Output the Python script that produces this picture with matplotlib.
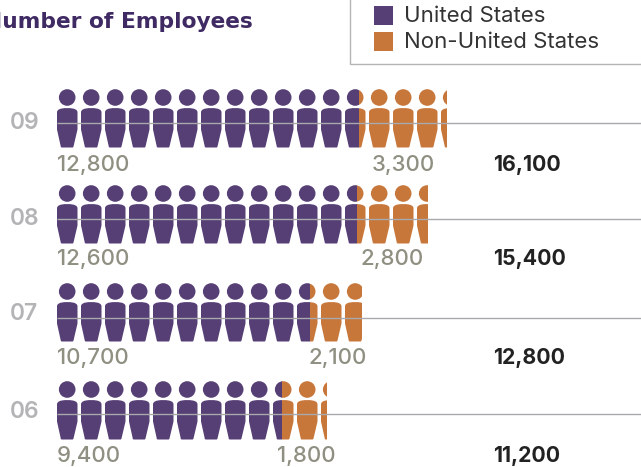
import math

import matplotlib

matplotlib.use("Agg")
import matplotlib.pyplot as plt
from matplotlib.patches import PathPatch, Rectangle
from matplotlib.path import Path
from matplotlib.transforms import Affine2D

plt.rcParams["font.family"] = ["Inter", "DejaVu Sans"]

years = ["09", "08", "07", "06"]
us_employees = [12800, 12600, 10700, 9400]
non_us_employees = [3300, 2800, 2100, 1800]
total_employees = [16100, 15400, 12800, 11200]

# how many icons are filled in the picture (not quite the same as the labels)
icons_us = [12.58, 12.5, 10.54, 9.38]
icons_total = [16.25, 15.46, 12.71, 11.25]

PURPLE = "#553f75"
ORANGE = "#c8773a"
LINE = "#a9a9ad"
VALUE_GREY = "#8f8f82"
YEAR_GREY = "#b4b4b6"

W, H = 641, 467
PITCH = 24.0  # px per icon
X0 = 57.0

head_y = [97.5, 193.5, 291.5, 389.5]
line_y = [123, 219, 318, 414]
year_y = [123, 219, 314, 412]
label_y = [165, 259, 358, 456]
non_us_x = [372, 360, 309, 277]


def person_path():
    """Icon in px, origin at body left / head centre."""
    head = Path.circle((10.2, 0), 8.3)
    verts = [
        (0, 15), (0, 12), (3, 11.3), (5, 11),
        (8, 10.4), (12.5, 10.4), (15.5, 11),
        (17.5, 11.3), (20.5, 12), (20.5, 15),
        (20.5, 32), (16.6, 48.6),
        (16.4, 49.8), (15.6, 50),
        (5, 50),
        (4.2, 50), (3.9, 49.6),
        (0, 32), (0, 15),
    ]
    codes = [
        Path.MOVETO, Path.CURVE4, Path.CURVE4, Path.CURVE4,
        Path.CURVE4, Path.CURVE4, Path.CURVE4,
        Path.CURVE4, Path.CURVE4, Path.CURVE4,
        Path.LINETO, Path.LINETO,
        Path.CURVE3, Path.CURVE3,
        Path.LINETO,
        Path.CURVE3, Path.CURVE3,
        Path.LINETO, Path.CLOSEPOLY,
    ]
    return Path.make_compound_path(head, Path(verts, codes))


fig = plt.figure(figsize=(W / 100, H / 100), dpi=100)
ax = fig.add_axes([0, 0, 1, 1])
# x in icons (one icon is about 1000 people), y in px from the top
ax.set_xlim(-X0 / PITCH, (W - X0) / PITCH)
ax.set_ylim(H, 0)
ax.axis("off")

icon = person_path()
for i in range(len(years)):
    for part, start, stop, colour in (
        ("us", 0, icons_us[i], PURPLE),
        ("non", icons_us[i], icons_total[i], ORANGE),
    ):
        clip = Rectangle((start, head_y[i] - 12), stop - start, 70, transform=ax.transData)
        for n in range(math.ceil(icons_total[i])):
            tr = Affine2D().scale(1 / PITCH, 1).translate(n, head_y[i]) + ax.transData
            p = PathPatch(icon, facecolor=colour, edgecolor="none", transform=tr, zorder=2)
            ax.add_patch(p)
            p.set_clip_path(clip)

    ax.hlines(line_y[i], 0, (W - X0) / PITCH, color=LINE, lw=1.0, zorder=3)

    ax.text(10 / W, 1 - year_y[i] / H, years[i], transform=ax.transAxes, color=YEAR_GREY,
            fontsize=16.5, fontweight="semibold", va="center", ha="left")
    ax.text(X0 / W, 1 - label_y[i] / H, f"{us_employees[i]:,}", transform=ax.transAxes,
            color=VALUE_GREY, fontsize=16, fontweight="medium", va="center", ha="left")
    ax.text(non_us_x[i] / W, 1 - label_y[i] / H, f"{non_us_employees[i]:,}", transform=ax.transAxes,
            color=VALUE_GREY, fontsize=16, fontweight="medium", va="center", ha="left")
    ax.text(493 / W, 1 - label_y[i] / H, f"{total_employees[i]:,}", transform=ax.transAxes,
            color="#222222", fontsize=15.3, fontweight="bold", va="center", ha="left")

# title runs off the left edge in the original
ax.text(253 / W, 1 - 22 / H, "Number of Employees", transform=ax.transAxes, color="#3f2a63",
        fontsize=15.7, fontweight="bold", family="DejaVu Sans", va="center", ha="right")

# legend box, open at the top and right
ax.plot([350 / W, 350 / W, 1], [1, 1 - 64 / H, 1 - 64 / H], transform=ax.transAxes,
        color="#b5b5b8", lw=1.0, clip_on=False, solid_joinstyle="miter")
for sy, colour, name in ((6, PURPLE, "United States"), (32, ORANGE, "Non-United States")):
    ax.add_patch(Rectangle((374 / W, 1 - (sy + 19) / H), 19 / W, 19 / H,
                           transform=ax.transAxes, facecolor=colour, edgecolor="none"))
    ax.text(404 / W, 1 - (sy + 10.5) / H, name, transform=ax.transAxes, color="#333333",
            fontsize=16, va="center", ha="left")

fig.savefig("out.png", dpi=100)
